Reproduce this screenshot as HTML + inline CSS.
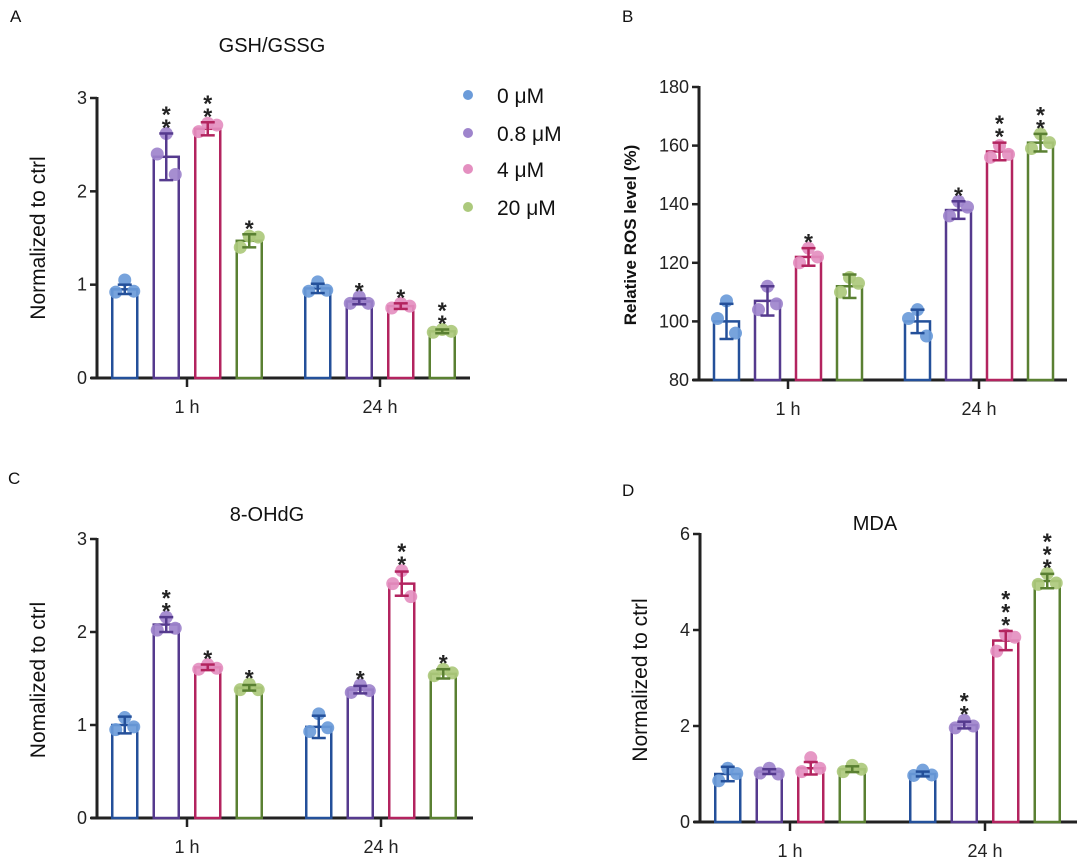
<!DOCTYPE html>
<html><head><meta charset="utf-8"><style>
body{margin:0;background:#fff;}
svg{display:block;font-family:"Liberation Sans",Arial,sans-serif;}
</style></head><body>
<svg id="fig" width="1080" height="860" viewBox="0 0 1080 860"></svg>
<script>
// ---- data ----
const groups = ["1 h", "24 h"];
const doses = ["0 μM", "0.8 μM", "4 μM", "20 μM"];
const gshMeans = [[0.95, 2.37, 2.67, 1.47], [0.96, 0.82, 0.77, 0.50]];
const gshErr = [[0.05, 0.25, 0.07, 0.07], [0.05, 0.03, 0.03, 0.02]];
const gshPts = [[[1.05,0.92,0.93],[2.62,2.40,2.18],[2.73,2.64,2.71],[1.52,1.40,1.51]],[[1.03,0.93,0.94],[0.87,0.80,0.80],[0.80,0.75,0.77],[0.52,0.49,0.50]]];
const gshStars = [["", "**", "**", "*"], ["", "*", "*", "**"]];
const rosMeans = [[100, 107, 122, 112], [100, 138, 158, 161]];
const rosErr = [[6, 5, 3, 4], [4, 3, 3, 3]];
const rosPts = [[[107,101,96],[112,104,106],[125,120,122],[115,110,113]],[[104,101,95],[141,136,139],[160,156,157],[164,159,161]]];
const rosStars = [["", "", "*", ""], ["", "*", "**", "**"]];
const ohMeans = [[1.0, 2.08, 1.62, 1.40], [0.98, 1.38, 2.52, 1.55]];
const ohErr = [[0.09, 0.08, 0.03, 0.03], [0.12, 0.04, 0.13, 0.05]];
const ohPts = [[[1.08,0.95,0.98],[2.16,2.02,2.04],[1.65,1.60,1.61],[1.44,1.38,1.38]],[[1.12,0.93,0.97],[1.43,1.35,1.37],[2.66,2.52,2.38],[1.60,1.53,1.56]]];
const ohStars = [["", "**", "*", "*"], ["", "*", "**", "*"]];
const mdaMeans = [[1.0, 1.05, 1.12, 1.10], [1.0, 2.02, 3.78, 5.02]];
const mdaErr = [[0.15, 0.05, 0.13, 0.06], [0.05, 0.07, 0.2, 0.15]];
const mdaPts = [[[1.12,0.86,1.01],[1.12,1.02,1.00],[1.34,1.05,1.12],[1.18,1.05,1.10]],[[1.08,0.97,0.98],[2.12,1.96,2.00],[3.90,3.56,3.85],[5.18,4.95,4.98]]];
const mdaStars = [["", "", "", ""], ["", "**", "***", "***"]];
const ticksA = [0, 1, 2, 3];
const ticksB = [80, 100, 120, 140, 160, 180];
const ticksD = [0, 2, 4, 6];

const strokeCols = ["#24509a", "#553a8e", "#b3245f", "#5a8032"];
const dotCols = ["#6b9bd9", "#9e84cc", "#e48fc0", "#acc97c"];
const NS = "http://www.w3.org/2000/svg";
const svg = document.getElementById("fig");
function el(tag, attrs, parent, text) {
  const e = document.createElementNS(NS, tag);
  for (const k in attrs) e.setAttribute(k, attrs[k]);
  if (text !== undefined) e.textContent = text;
  (parent || svg).appendChild(e);
  return e;
}

function panel(cfg) {
  const g = el("g", {});
  
  
  const y = v => cfg.y0 + (v - cfg.vmin) / (cfg.vmax - cfg.vmin) * (cfg.y1 - cfg.y0);
  const ya = el("line", {x1: cfg.ax, x2: cfg.ax, y1: cfg.y1 - 1, y2: cfg.y0 + 1.5, stroke: "#222", "stroke-width": 3}, g);
  
  
  const xa = el("line", {x1: cfg.ax - 6, x2: cfg.axEnd, y1: cfg.y0, y2: cfg.y0, stroke: "#222", "stroke-width": 3}, g);
  
  
  cfg.ticks.forEach(t => {
    el("line", {x1: cfg.ax - 7, x2: cfg.ax, y1: y(t), y2: y(t), stroke: "#222", "stroke-width": 2.5}, g);
    const tl = el("text", {x: cfg.ax - 10, y: y(t) + 6, "text-anchor": "end", "font-size": 18, fill: "#222"}, g, t);
    
    
  });
  groups.forEach((gn, gi) => {
    const tx = cfg.ticksX[gi];
    el("line", {x1: tx, x2: tx, y1: cfg.y0, y2: cfg.y0 + 9, stroke: "#222", "stroke-width": 2.5}, g);
    const xl = el("text", {x: tx, y: cfg.y0 + 35, "text-anchor": "middle", "font-size": 18, fill: "#222"}, g, gn);
    
    
    doses.forEach((d, di) => {
      const cx = tx + (di - 1.5) * cfg.step;
      const m = cfg.means[gi][di], e = cfg.err[gi][di];
      const bar = el("rect", {x: cx - 12.5, y: y(m), width: 25, height: cfg.y0 - y(m), fill: "#fff", stroke: strokeCols[di], "stroke-width": 2.5}, g);
      
      
      const offs = [0, -9, 9];
      cfg.pts[gi][di].forEach((p, pi) => {
        const c = el("circle", {cx: cx + offs[pi], cy: y(p), r: 6.5, fill: dotCols[di], opacity: 0.92}, g);
        
        
      });
      el("line", {x1: cx, x2: cx, y1: y(m + e), y2: y(m - e), stroke: strokeCols[di], "stroke-width": 2.5}, g);
      el("line", {x1: cx - 7, x2: cx + 7, y1: y(m + e), y2: y(m + e), stroke: strokeCols[di], "stroke-width": 2.5}, g);
      el("line", {x1: cx - 7, x2: cx + 7, y1: y(m - e), y2: y(m - e), stroke: strokeCols[di], "stroke-width": 2.5}, g);
      const s = cfg.stars[gi][di];
      const top = Math.min(y(m + e), ...cfg.pts[gi][di].map(y)) - 6;
      for (let k = 0; k < s.length; k++) {
        const st = el("text", {x: cx, y: top - k * 13 + 8, "text-anchor": "middle", "font-size": 23, "font-weight": "bold", fill: "#222"}, g, "*");
        
        
      }
    });
  });
  const yt = el("text", {x: cfg.ytx, y: cfg.yty, "text-anchor": "middle", "font-size": cfg.ytSize, "font-weight": cfg.ytWeight || "normal", fill: "#111", transform: `rotate(-90 ${cfg.ytx} ${cfg.yty})`}, g, cfg.ytitle);
  
  
  if (cfg.title) {
    const tt = el("text", {x: cfg.tx, y: cfg.ty, "text-anchor": "middle", "font-size": 20, fill: "#111"}, g, cfg.title);
    
    
  }
  const lt = el("text", {x: cfg.lx, y: cfg.ly, "font-size": 17, fill: "#111"}, g, cfg.letter);
  
  
}

panel({name: "panel-a-gsh-gssg", ax: 97, axEnd: 470, y0: 378, y1: 98, vmin: 0, vmax: 3, ticks: ticksA, ticksX: [187, 380], step: 41.5,
  means: gshMeans, err: gshErr, pts: gshPts, stars: gshStars, ytitle: "Normalized to ctrl", ytx: 45, yty: 238, ytSize: 21,
  title: "GSH/GSSG", tx: 272, ty: 52, letter: "A", lx: 10, ly: 22});
panel({name: "panel-b-ros", ax: 699, axEnd: 1067, y0: 380, y1: 87, vmin: 80, vmax: 180, ticks: ticksB, ticksX: [788, 979], step: 41,
  means: rosMeans, err: rosErr, pts: rosPts, stars: rosStars, ytitle: "Relative ROS level (%)", ytx: 636, yty: 235, ytSize: 17, ytWeight: "bold",
  title: "", letter: "B", lx: 622, ly: 22});
panel({name: "panel-c-8-ohdg", ax: 97, axEnd: 473, y0: 818, y1: 539, vmin: 0, vmax: 3, ticks: ticksA, ticksX: [187, 381], step: 41.5,
  means: ohMeans, err: ohErr, pts: ohPts, stars: ohStars, ytitle: "Nomalized to ctrl", ytx: 45, yty: 680, ytSize: 21,
  title: "8-OHdG", tx: 267, ty: 521, letter: "C", lx: 8, ly: 484});
panel({name: "panel-d-mda", ax: 700, axEnd: 1077, y0: 822, y1: 534, vmin: 0, vmax: 6, ticks: ticksD, ticksX: [790, 985], step: 41.5,
  means: mdaMeans, err: mdaErr, pts: mdaPts, stars: mdaStars, ytitle: "Normalized to ctrl", ytx: 647, yty: 680, ytSize: 21,
  title: "MDA", tx: 875, ty: 530, letter: "D", lx: 622, ly: 496});

const lg = el("g", {});


const legY = [95, 133, 169, 207];
doses.forEach((d, i) => {
  const c = el("circle", {cx: 468, cy: legY[i], r: 5, fill: dotCols[i]}, lg);
  
  
  const t = el("text", {x: 497, y: legY[i] + 8, "font-size": 21, fill: "#111"}, lg, d);
  
  
});
</script>
</body></html>
